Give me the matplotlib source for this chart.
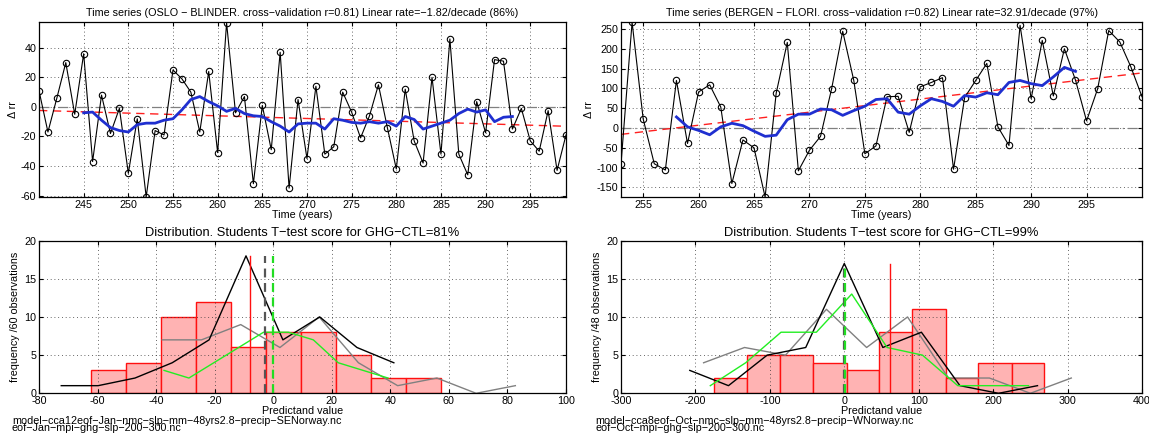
import matplotlib
matplotlib.use("Agg")
import matplotlib.pyplot as plt
import numpy as np

plt.rcParams['font.family'] = ['Liberation Sans', 'DejaVu Sans']
plt.rcParams['font.size'] = 7.7
plt.rcParams['axes.unicode_minus'] = False

# --- time series, OSLO - BLINDER (Jan) ---
oslo_years = np.arange(240, 300)
oslo_rr = [11, -17, 6, 30, -5, 36, -37, 8, -18, -1,
           -45, -8, -61, -16, -19, 25, 19, 10, -17, 24,
           -31, 57, -4, 7, -52, 1, -29, 37, -55, 5,
           -35, 14, -32, -27, 10, -3.5, -21, -6, 15, -14,
           -42, 12, -23, -38, 20, -32, 46, -32, -46, 3.6,
           -17.5, 32, 31, -15, -1, -23, -30, -2.5, -43, -19]
oslo_smooth_years = np.arange(245, 294)
oslo_smooth = [-4, -3.5, -9, -14, -16, -17, -12, -11, -11, -9,
               -8, -2, 5, 7, 3.6, 0.7, -3, -1, -4.5, -6,
               -6.5, -10, -13, -17, -11.5, -11, -11, -15, -8, -9,
               -10.5, -11, -10, -11, -10, -13, -6.5, -8.5, -15, -13,
               -11, -9, -4.5, -1.5, -3.5, -2, -10, -7, -6.5]
oslo_trend_x = [240, 299]
oslo_trend_y = [-2.4, -13.1]

# --- time series, BERGEN - FLORI (Oct) ---
bergen_years = np.arange(253, 301)
bergen_rr = [-91, 267, 23, -90, -106, 120, -39, 91, 109, 53,
             -140, -30, -50, -174, 88, 216, -108, -56, -21, 99,
             244, 120, -65, -45, 79, 80, -11, 104, 115, 127,
             -104, 77, 120, 163, 3, -44, 259, 74, 221, 81,
             200, 121, 18, 99, 246, 217, 154, 79]
bergen_smooth_years = np.arange(258, 295)
bergen_smooth = [28, 3, -6, -17, 3, 12, 6, -8, -21, -18,
                 21, 35, 35, 48, 46, 32, 44, 55, 72, 74,
                 40, 35, 56, 74, 67, 55, 82, 78, 89, 84,
                 115, 120, 112, 107, 129, 153, 143]
bergen_trend_x = [253, 300]
bergen_trend_y = [-16, 139]

# --- distributions ---
oslo_edges = [-62.3, -50.2, -38.3, -26.3, -14.3, -2.4, 9.5, 21.5, 33.4, 45.4, 57.3]
oslo_counts = [3, 4, 10, 12, 6, 8, 8, 5, 2, 2]
oslo_black_x = [-72.4, -59.8, -47.2, -34.5, -21.9, -9.3, 3.3, 15.9, 28.6, 41.2]
oslo_black_y = [1, 1, 2, 4, 7, 18, 7, 10, 6, 4]
oslo_gray_x = [-37.9, -24.5, -11.1, 2.3, 15.7, 29.1, 42.5, 55.9, 69.3, 82.7]
oslo_gray_y = [7, 7, 9, 6, 10, 4, 1, 2, 0, 1]
oslo_green_x = [-37.3, -28.8, -20.3, -11.8, -3.3, 5.2, 13.7, 22.2, 30.7, 39.2]
oslo_green_y = [3, 2, 4, 6, 8, 8, 7, 4, 3, 2]
oslo_vlines = {'red': -7.8, 'gray': -2.8, 'green': 0.0}
oslo_vtop = 18

bergen_edges = [-175, -130.5, -86, -41.5, 3, 47.3, 91.5, 136, 180.3, 224.7, 269]
bergen_counts = [2, 5, 5, 4, 3, 8, 11, 2, 4, 4]
bergen_black_x = [-207.6, -155.6, -103.6, -51.8, 0.0, 51.8, 103.6, 155.4, 207.2, 259.6]
bergen_black_y = [3, 1, 5, 6, 17, 6, 8, 1, 0, 1]
bergen_gray_x = [-189, -134, -79, -24, 30, 85, 140, 195, 250, 305]
bergen_gray_y = [4, 6, 5, 11, 6, 10, 2, 2, 0, 2]
bergen_green_x = [-180, -132.5, -85, -37.5, 10, 57.5, 105, 152.5, 200, 247.5]
bergen_green_y = [1, 4, 8, 8, 13, 6, 5, 1, 1, 1]
bergen_vlines = {'red': 61.0, 'gray': 0.0, 'green': 1.0}
bergen_vtop = 17

W, H = 1149, 433
fig = plt.figure(figsize=(W / 100, H / 100), dpi=100)


def box(l, t, r, b):
    return [l / W, 1 - b / H, (r - l) / W, (b - t) / H]


def style(ax):
    ax.grid(True, linestyle=(0, (1, 3.5)), color='#333333', linewidth=0.6)
    ax.tick_params(direction='in', top=True, right=True, length=3, pad=2)
    for s in ax.spines.values():
        s.set_linewidth(0.9)


def series(ax, yrs, vals, syrs, svals, tx, ty, title, xt, yt):
    ax.axhline(0, color='#808080', linestyle='-.', linewidth=0.9, dashes=(8, 3, 1, 3))
    ax.plot(tx, ty, color='#ff2020', linestyle='--', linewidth=1.0, dashes=(6, 4))
    ax.plot(yrs, vals, '-o', color='black', linewidth=0.8, markersize=4.6,
            markerfacecolor='none', markeredgewidth=0.8)
    ax.plot(syrs, svals, color='#1f2fd0', linewidth=2.0)
    ax.set_xlim(yrs[0], yrs[-1])
    ax.set_ylim(min(vals), max(vals) + 0.5)
    ax.set_xticks(xt)
    ax.set_yticks(yt)
    ax.set_title(title, pad=4)
    ax.set_xlabel('Time (years)', labelpad=0)
    ax.set_ylabel('\u0394 rr', labelpad=2)
    style(ax)


def dist(ax, edges, counts, bx, by, gx, gy, grx, gry, vl, vtop, title, xt, ylab, xlim):
    ax.bar(edges[:-1], counts, width=np.diff(edges), align='edge',
           facecolor='#ffb3b3', edgecolor='#ff1010', linewidth=1.0)
    ax.plot(gx, gy, color='#808080', linewidth=1.0)
    ax.plot(bx, by, color='black', linewidth=1.0)
    ax.plot(grx, gry, color='#22ee22', linewidth=1.0)
    ax.plot([vl['red'], vl['red']], [0, vtop], color='#ff1010', linewidth=1.0)
    ax.plot([vl['gray'], vl['gray']], [0, vtop], color='#555555', linewidth=1.6,
            linestyle='--', dashes=(4, 2.5))
    ax.plot([vl['green'], vl['green']], [0, vtop], color='#22dd22', linewidth=1.6,
            linestyle='--', dashes=(4, 2.5))
    ax.set_xlim(*xlim)
    ax.set_ylim(0, 20)
    ax.set_xticks(xt)
    ax.set_yticks([0, 5, 10, 15, 20])
    ax.set_title(title, pad=3)
    ax.set_xlabel('Predictand value', labelpad=0)
    ax.set_ylabel(ylab, labelpad=3)
    style(ax)


ax1 = fig.add_axes(box(39, 22, 566, 197))
series(ax1, oslo_years, oslo_rr, oslo_smooth_years, oslo_smooth, oslo_trend_x, oslo_trend_y,
       'Time series (OSLO \u2212 BLINDER. cross\u2212validation r=0.81) Linear rate=\u22121.82/decade (86%)',
       np.arange(245, 300, 5), np.arange(-60, 41, 20))

ax2 = fig.add_axes(box(621, 22, 1142, 197))
series(ax2, bergen_years, bergen_rr, bergen_smooth_years, bergen_smooth, bergen_trend_x, bergen_trend_y,
       'Time series (BERGEN \u2212 FLORI. cross\u2212validation r=0.82) Linear rate=32.91/decade (97%)',
       np.arange(255, 300, 5), np.arange(-150, 251, 50))

ax3 = fig.add_axes(box(39, 240.6, 566, 393.3))
dist(ax3, oslo_edges, oslo_counts, oslo_black_x, oslo_black_y, oslo_gray_x, oslo_gray_y,
     oslo_green_x, oslo_green_y, oslo_vlines, oslo_vtop,
     'Distribution. Students T\u2212test score for GHG\u2212CTL=81%',
     np.arange(-80, 101, 20), 'frequency /60 observations', (-80, 100))

ax4 = fig.add_axes(box(621, 240.6, 1142, 393.3))
dist(ax4, bergen_edges, bergen_counts, bergen_black_x, bergen_black_y, bergen_gray_x, bergen_gray_y,
     bergen_green_x, bergen_green_y, bergen_vlines, bergen_vtop,
     'Distribution. Students T\u2212test score for GHG\u2212CTL=99%',
     np.arange(-300, 401, 100), 'frequency /48 observations', (-300, 400))

fn1 = fig.text(12 / W, 1 - 421 / H, 'model\u2212cca12eof\u2212Jan\u2212nmc\u2212slp\u2212mm\u221248yrs2.8\u2212precip\u2212SENorway.nc',
               va='center', ha='left')
fig.text(12 / W, 1 - 428 / H, 'eof\u2212Jan\u2212mpi\u2212ghg\u2212slp\u2212200\u2212300.nc', va='center', ha='left')
fig.text(595 / W, 1 - 421 / H, 'model\u2212cca8eof\u2212Oct\u2212nmc\u2212slp\u2212mm\u221248yrs2.8\u2212precip\u2212WNorway.nc',
         va='center', ha='left')
fig.text(595 / W, 1 - 428 / H, 'eof\u2212Oct\u2212mpi\u2212ghg\u2212slp\u2212200\u2212300.nc', va='center', ha='left')

# size the text from widths measured on the original:
# top titles ~429 px, file-name line ~329 px, everything else like the file names
fig.canvas.draw()
r = fig.canvas.get_renderer()
k_title = 429 / ax1.title.get_window_extent(r).width
k_rest = 329 / fn1.get_window_extent(r).width
top_titles = [ax1.title, ax2.title]
for t in fig.findobj(matplotlib.text.Text):
    if t in top_titles:
        t.set_fontsize(t.get_fontsize() * k_title)
    else:
        t.set_fontsize(t.get_fontsize() * k_rest)

fig.savefig('out.png', dpi=100)
